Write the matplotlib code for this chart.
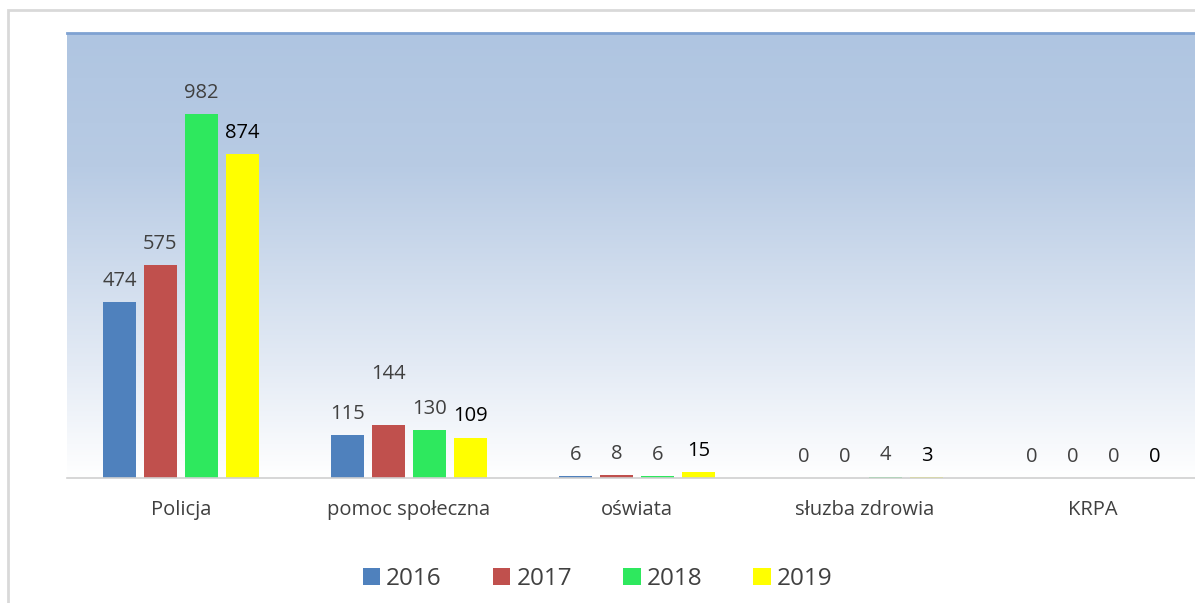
import numpy as np
import matplotlib
matplotlib.use("Agg")
import matplotlib.pyplot as plt
from matplotlib.colors import LinearSegmentedColormap
from matplotlib.patches import Rectangle

plt.rcParams['font.family'] = ['Open Sans', 'DejaVu Sans']

categories = ["Policja", "pomoc społeczna", "oświata", "słuzba zdrowia", "KRPA"]
years = ["2016", "2017", "2018", "2019"]
values_2016 = [474, 115, 6, 0, 0]
values_2017 = [575, 144, 8, 0, 0]
values_2018 = [982, 130, 6, 4, 0]
values_2019 = [874, 109, 15, 3, 0]

series = [values_2016, values_2017, values_2018, values_2019]
colors = ["#4F81BD", "#C0504D", "#2EE85E", "#FFFF00"]
label_colors = ["#404040", "#404040", "#404040", "#000000"]


def main():
    fig = plt.figure(figsize=(11.95, 6.03), dpi=100)
    # plot area runs a little past the right edge of the picture
    ax = fig.add_axes([67 / 1195, 125 / 603, 1140 / 1195, 445 / 603])

    # outer chart frame
    fig.patches.append(Rectangle((8 / 1195, -0.05), 1.2, 1 - 10 / 603 + 0.05,
                                 transform=fig.transFigure, fill=False,
                                 edgecolor="#D9D9D9", linewidth=2))

    # gradient plot background
    cmap = LinearSegmentedColormap.from_list(
        "bg", [(0.0, "#FFFFFF"), (0.25, "#E4EBF5"), (0.7, "#B8CBE4"), (1.0, "#AFC5E1")])
    grad = np.linspace(0, 1, 256).reshape(-1, 1)
    ax.imshow(grad, cmap=cmap, origin="lower", aspect="auto",
              extent=[-0.5, 4.5, 0, 1200], zorder=0)

    x = np.arange(len(categories))
    step = 0.18
    width = 0.145
    offsets = (np.arange(len(years)) - 1.5) * step

    for i, (vals, year) in enumerate(zip(series, years)):
        bars = ax.bar(x + offsets[i], vals, width, color=colors[i], label=year,
                      zorder=2)
        for j, b in enumerate(bars):
            extra = 21 if (i == 1 and j == 1) else 0
            ax.annotate(str(vals[j]), (b.get_x() + b.get_width() / 2, b.get_height()),
                        xytext=(0, 8 + extra), textcoords="offset points",
                        ha="center", va="bottom", fontsize=14.5,
                        color=label_colors[i],
                        fontweight="medium" if i == 3 else "normal")

    ax.set_xlim(-0.5, 4.5)
    ax.set_ylim(0, 1200)
    ax.set_yticks([])
    ax.set_xticks(x)
    ax.set_xticklabels(categories, fontsize=14.5, color="#404040")
    ax.tick_params(axis="x", length=0, pad=16)

    for side in ["left", "right"]:
        ax.spines[side].set_visible(False)
    ax.spines["top"].set_color("#7FA2D2")
    ax.spines["top"].set_linewidth(2.0)
    ax.spines["bottom"].set_color("#D0D0D0")
    ax.spines["bottom"].set_linewidth(1.2)

    fig.legend(loc="center", bbox_to_anchor=(0.5, 1 - 579 / 603), ncol=4,
               frameon=False, fontsize=17.5, handlelength=0.72, handleheight=0.72,
               handletextpad=0.25, columnspacing=2.1, labelcolor="#404040")

    fig.savefig("out.png", dpi=100)
    plt.close("all")


if __name__ == "__main__":
    main()
